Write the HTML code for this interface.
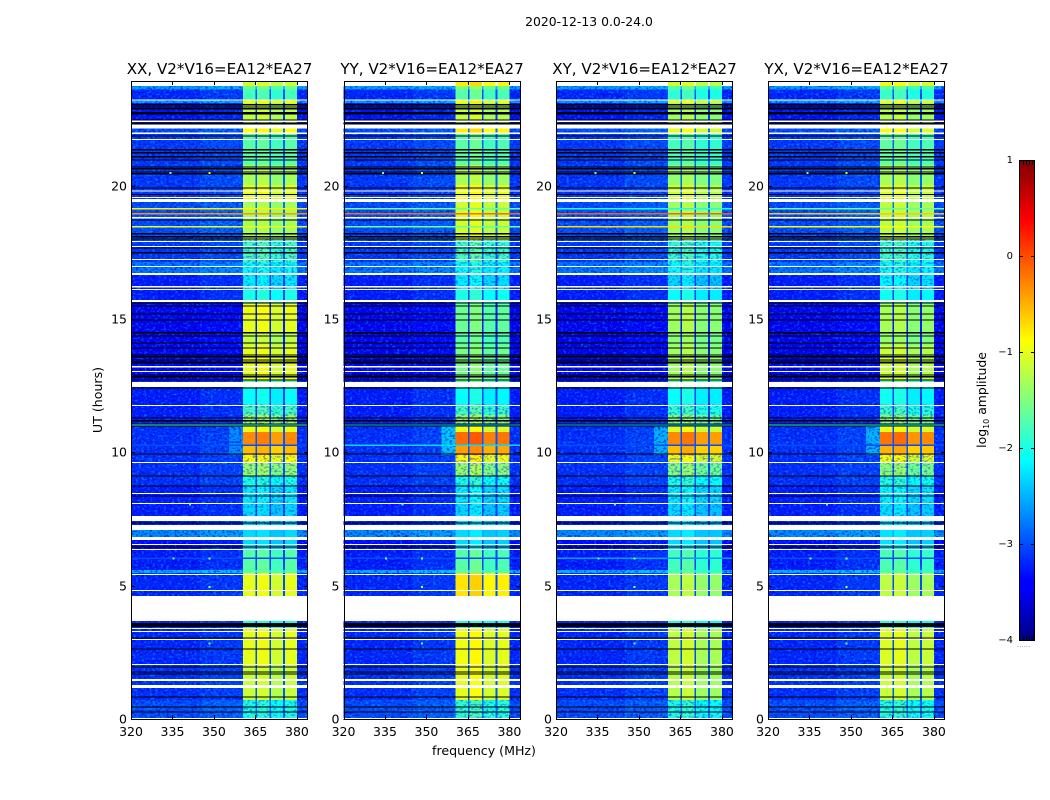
<!DOCTYPE html>
<html lang="en">
<head>
<meta charset="utf-8">
<title>2020-12-13 0.0-24.0</title>
<style>
html,body{margin:0;padding:0;background:#fff}
svg{display:block}
text{font-family:"DejaVu Sans","Liberation Sans",sans-serif;fill:#000}
</style>
</head>
<body>
<svg id="figure" xmlns="http://www.w3.org/2000/svg" width="1050" height="800" viewBox="0 0 1050 800">
  <defs>
    <filter id="speckleLight" x="0" y="0" width="100%" height="100%">
      <feTurbulence type="fractalNoise" baseFrequency="0.36 0.48" numOctaves="2" seed="4"/>
      <feColorMatrix type="matrix" values="0 0 0 0 0  0 0 0 0 0.62  0 0 0 0 1  5 0 0 0 -2.6"/>
    </filter>
    <filter id="speckleDark" x="0" y="0" width="100%" height="100%">
      <feTurbulence type="fractalNoise" baseFrequency="0.36 0.48" numOctaves="2" seed="11"/>
      <feColorMatrix type="matrix" values="0 0 0 0 0  0 0 0 0 0  0 0 0 0 0.6  5 0 0 0 -2.5"/>
    </filter>
    <linearGradient id="jetGradient" x1="0" y1="1" x2="0" y2="0">
      <stop offset="0" stop-color="#000080"/>
      <stop offset="0.11" stop-color="#0000ff"/>
      <stop offset="0.125" stop-color="#0000ff"/>
      <stop offset="0.375" stop-color="#00ffff"/>
      <stop offset="0.5" stop-color="#80ff80"/>
      <stop offset="0.625" stop-color="#ffff00"/>
      <stop offset="0.875" stop-color="#ff0000"/>
      <stop offset="1" stop-color="#800000"/>
    </linearGradient>
  </defs>
  <text x="589" y="26" font-size="12.4" text-anchor="middle">2020-12-13 0.0-24.0</text>
  <text x="484" y="755" font-size="12.6" text-anchor="middle">frequency (MHz)</text>
  <text x="0" y="0" font-size="12.6" text-anchor="middle" transform="translate(102 400) rotate(-90)">UT (hours)</text>
  <g id="panels"></g>
  <g id="colorbar">
    <rect x="1019.5" y="160.5" width="15" height="480" fill="url(#jetGradient)" stroke="#000" stroke-width="1"/>
    <text x="0" y="0" font-size="12.4" text-anchor="middle" transform="translate(986 400) rotate(-90)">log<tspan font-size="8" dy="3">10</tspan><tspan dy="-3"> amplitude</tspan></text>
    <text x="1017" y="647" font-size="7" style="fill:#888">......</text>
  </g>
</svg>
<script>
// Panel names
const panelNames = ["XX", "YY", "XY", "YX"];
const panelSuffix = ", V2*V16=EA12*EA27";

// Axis ticks
const xTicks = [320, 335, 350, 365, 380];
const yTicks = [0, 5, 10, 15, 20];
const colorTicks = [1, 0, -1, -2, -3, -4];
const colorCapFractions = [0.2, 0.4, 0.6, 0.8, 0.95];

// Channel edges in MHz
const channelEdges = [[360.5, 365], [365.6, 370], [370.6, 375], [375.6, 380]];

// Time segment edges in hours (top to bottom)
const segmentEdges = [23.92,23.74,23.6,23.21,23.10,22.43,22.13,21.98,20.78,20.03,19.39,17.96,17.14,16.65,16.09,15.60,15.04,14.48,14.03,12.71,12.41,11.78,11.40,11.03,10.76,10.28,9.90,9.64,9.11,8.74,8.10,7.09,6.83,6.34,5.59,5.48,4.61,3.41,2.06,0.71,0];

// log10 amplitude of the out-of-band background per segment
const backgroundLevels = [null,-2.6,-3.2,-2.6,-3.3,-3.2,-3.0,-3.1,-3.1,-3.1,-3.0,-3.1,-2.8,-3.25,-3.25,-3.45,-3.45,-3.45,-3.45,-3.25,-3.25,-3.25,-3.25,-3.15,-3.15,-3.15,-3.15,-3.15,-3.15,-3.25,-3.25,-2.7,-3.35,-3.25,-2.5,-3.2,-3.2,-3.2,-3.15,-3.0];

// log10 amplitude in the band per segment, per polarisation
const bandLevelsXX = [-1.1,-1.6,-1.8,-0.9,-1.2,-1.2,-0.9,-1.7,-1.3,-1.0,-1.3,-1.8,-2.1,-2.2,-2.0,-0.95,-1.0,-1.2,-1.0,-1.7,-2.1,-1.8,-1.4,-1.0,-0.3,-0.55,-0.9,-1.4,-2.0,-2.2,-2.3,-2.3,-2.3,-1.7,-1.7,-1.0,-2.0,-1.0,-1.15,-2.0];
const bandLevelsYY = [-0.8,-1.5,-1.7,-0.9,-1.2,-1.2,-0.8,-1.7,-1.3,-0.95,-1.1,-1.8,-2.1,-2.2,-2.0,-1.6,-1.6,-1.7,-1.55,-1.7,-2.1,-1.8,-1.4,-1.0,-0.15,-0.4,-0.9,-1.4,-2.0,-2.2,-2.3,-2.3,-2.3,-1.7,-1.7,-0.75,-2.0,-0.95,-1.0,-1.9];
const bandLevelsXY = [-1.1,-1.7,-1.9,-1.0,-1.35,-1.3,-1.0,-1.8,-1.4,-1.15,-1.35,-1.9,-2.1,-2.3,-2.1,-1.35,-1.35,-1.45,-1.35,-1.7,-2.1,-1.9,-1.5,-1.05,-0.3,-0.55,-1.0,-1.5,-2.0,-2.2,-2.3,-2.3,-2.3,-1.8,-1.8,-1.3,-2.0,-1.2,-1.25,-2.0];
const bandLevelsYX = [-1.0,-1.7,-1.9,-1.0,-1.3,-1.3,-1.0,-1.7,-1.35,-1.1,-1.25,-1.9,-2.1,-2.2,-2.1,-1.35,-1.35,-1.45,-1.2,-1.7,-2.1,-1.9,-1.5,-1.05,-0.25,-0.55,-1.0,-1.5,-2.0,-2.2,-2.3,-2.3,-2.3,-1.8,-1.8,-1.25,-2.0,-1.1,-1.2,-2.0];

// Per-channel offset relative to the band level, per polarisation
const channelOffsetsXX = [0, 0.05, -0.1, 0];
const channelOffsetsYY = [0, 0.1, -0.1, -0.05];
const channelOffsetsXY = [0, 0.1, -0.1, -0.1];
const channelOffsetsYX = [0.05, 0.1, -0.1, -0.05];

// Shoulder below the band at about 10-11 UT
const shoulderFreq = [355.5, 360.5];
const shoulderHours = [9.90, 11.03];
const shoulderLevels = [-2.7, -2.4, -2.5, -2.5];

// Narrow interference lines across the band
const lineHours = [19.13, 18.94, 18.46, 11.02, 10.27, 6.02];
const lineLevelsXX = [-0.8, -0.35, -1.0, -1.9, -3.0, -3.0];
const lineLevelsYY = [-1.6, -0.15, -1.6, -2.4, -2.3, -3.0];
const lineLevelsXY = [-2.0, -0.1, -0.7, -2.4, -3.0, -2.6];
const lineLevelsYX = [-1.6, -0.6, -0.9, -2.0, -3.0, -3.0];

// Hours flagged as missing (white), as [low, high]
const whiteRows = [[23.19,23.23],[22.39,22.43],[22.13,22.28],[21.94,21.98],[21.71,21.75],[19.78,19.82],[19.54,19.58],[19.39,19.50],[18.77,18.83],[17.89,17.93],[17.70,17.74],[17.21,17.25],[16.95,16.99],[16.65,16.73],[16.18,16.24],[16.09,16.13],[15.64,15.71],[13.18,13.24],[13.01,13.05],[12.45,12.64],[11.74,11.78],[9.60,9.64],[8.44,8.48],[8.06,8.10],[7.43,7.61],[7.09,7.28],[6.71,6.83],[6.53,6.56],[6.34,6.38],[5.40,5.44],[4.80,4.84],[3.68,4.61],[3.38,3.41],[3.26,3.30],[2.96,3.00],[2.03,2.06],[1.43,1.50],[1.16,1.28],[0,0.04]];

// Hours with zero amplitude (black)
const blackRows = [23.03,22.95,22.88,22.73,22.69,22.46,22.35,22.31,21.86,21.34,21.23,21.08,20.96,20.70,20.63,20.51,20.44,19.91,19.66,18.71,18.19,18.08,18.00,17.66,17.48,15.60,15.49,15.19,14.96,14.48,14.36,14.10,13.91,13.65,13.58,13.46,13.39,13.35,12.90,12.83,12.71,12.41,11.29,11.18,11.06,10.99,9.94,9.11,8.74,8.36,7.35,6.45,3.04,2.63,1.95,1.76,1.69,0.83,0.45,0.26];
const blackBlocks = [[3.45,3.60]];

// Time ranges where the band itself stays mottled
const mottledBandHours = [[7.09,9.90],[11.03,11.78],[16.09,17.96],[0,0.71]];

// Isolated hot pixels: frequency, hour, level
const hotFreqs = [334, 348, 341, 348, 335, 348, 348];
const hotHours = [20.48, 20.48, 8.05, 6.02, 6.02, 4.95, 2.83];
const hotLevels = [-1.4, -1.0, -1.6, -1.3, -1.5, -1.2, -1.6];

// Layout of the plotting frame
const panelLefts = [131, 343.5, 556, 768];
const panelWidth = 177;
const plotTop = 81;
const plotBottom = 719;
const xMin = 320, xMax = 384;
const yMin = 0, yMax = 23.92;
const allBands = [bandLevelsXX, bandLevelsYY, bandLevelsXY, bandLevelsYX];
const allOffsets = [channelOffsetsXX, channelOffsetsYY, channelOffsetsXY, channelOffsetsYX];
const allLines = [lineLevelsXX, lineLevelsYY, lineLevelsXY, lineLevelsYX];

const SVG_NS = "http://www.w3.org/2000/svg";
const yScale = h => plotBottom - (h - yMin) / (yMax - yMin) * (plotBottom - plotTop);
const xScale = (f, left) => left + (f - xMin) / (xMax - xMin) * panelWidth;

function jet(level) {
  const t = Math.max(0, Math.min(1, (level + 4) / 5));
  const ramp = v => Math.round(255 * Math.max(0, Math.min(1, v)));
  const r = ramp(Math.min(4 * t - 1.5, -4 * t + 4.5));
  const g = ramp(Math.min(4 * t - 0.5, -4 * t + 3.5));
  const b = ramp(Math.min(4 * t + 0.5, -4 * t + 2.5));
  return "rgb(" + r + "," + g + "," + b + ")";
}

function addRect(parent, x0, x1, yTop, yBot, fill) {
  const el = document.createElementNS(SVG_NS, "rect");
  el.setAttribute("x", x0.toFixed(2));
  el.setAttribute("width", (x1 - x0).toFixed(2));
  el.setAttribute("y", yTop.toFixed(2));
  el.setAttribute("height", (yBot - yTop).toFixed(2));
  el.setAttribute("fill", fill);
  el.setAttribute("shape-rendering", "crispEdges");
  parent.appendChild(el);
  return el;
}

function addLine(parent, x1, y1, x2, y2) {
  const el = document.createElementNS(SVG_NS, "line");
  el.setAttribute("x1", x1);
  el.setAttribute("y1", y1);
  el.setAttribute("x2", x2);
  el.setAttribute("y2", y2);
  el.setAttribute("stroke", "#000");
  el.setAttribute("stroke-width", "1");
  parent.appendChild(el);
  return el;
}

function addText(parent, x, y, size, anchor, content) {
  const el = document.createElementNS(SVG_NS, "text");
  el.setAttribute("x", x);
  el.setAttribute("y", y);
  el.setAttribute("font-size", size);
  el.setAttribute("text-anchor", anchor);
  el.textContent = content;
  parent.appendChild(el);
  return el;
}

const panelsRoot = document.getElementById("panels");

panelNames.forEach((name, p) => {
  const left = panelLefts[p];
  const right = left + panelWidth;
  const key = name.toLowerCase();
  const g = document.createElementNS(SVG_NS, "g");
  
  
  panelsRoot.appendChild(g);

  const title = addText(g, left + panelWidth / 2, 74, 15.1, "middle", name + panelSuffix);
  
  

  // Background cells per time segment
  backgroundLevels.forEach((bg, s) => {
    const yTop = yScale(segmentEdges[s]);
    const yBot = yScale(segmentEdges[s + 1]);
    const bgCell = addRect(g, left, right, yTop, yBot, bg === null ? "#fff" : jet(bg));
    
    
    if (bg !== null) {
      const edge = addRect(g, xScale(345, left), xScale(channelEdges[0][0], left), yTop, yBot, jet(bg + 0.1));
      
      
    }
  });

  // Shoulder
  const shoulder = addRect(g, xScale(shoulderFreq[0], left), xScale(shoulderFreq[1], left), yScale(shoulderHours[1]), yScale(shoulderHours[0]), jet(shoulderLevels[p]));
  
  

  // Speckle texture on the background
  const lightNoise = addRect(g, left, right, plotTop, plotBottom, "#fff");
  lightNoise.setAttribute("filter", "url(#speckleLight)");
  lightNoise.setAttribute("opacity", "0.4");
  
  
  const darkNoise = addRect(g, left, right, plotTop, plotBottom, "#000");
  darkNoise.setAttribute("filter", "url(#speckleDark)");
  darkNoise.setAttribute("opacity", "0.6");
  
  

  // Band cells, drawn over the texture
  backgroundLevels.forEach((bg, s) => {
    const yTop = yScale(segmentEdges[s]);
    const yBot = yScale(segmentEdges[s + 1]);
    if (bg === null) {
      const blank = addRect(g, left, right, yTop, yBot, "#fff");
      
      
    }
    const gapCell = addRect(g, xScale(channelEdges[0][1], left), xScale(channelEdges[3][0], left), yTop, yBot, bg === null ? "#fff" : jet(bg + 0.2));
    
    
    channelEdges.forEach((ch, c) => {
      const cell = addRect(g, xScale(ch[0], left), xScale(ch[1], left), yTop, yBot, jet(allBands[p][s] + allOffsets[p][c]));
      
      
    });
  });

  // Mottling inside the band where it is faint
  mottledBandHours.forEach(range => {
    const mott = addRect(g, xScale(channelEdges[0][0], left), xScale(channelEdges[3][1], left), yScale(range[1]), yScale(range[0]), "#000");
    mott.setAttribute("filter", "url(#speckleDark)");
    mott.setAttribute("opacity", "0.4");
    
    
  });

  // Interference lines
  lineHours.forEach((h, i) => {
    const y = yScale(h);
    const ln = addRect(g, left, right, y - 0.8, y + 0.8, jet(allLines[p][i]));
    
    
  });

  // Flagged rows
  whiteRows.forEach(row => {
    const el = addRect(g, left, right, yScale(row[1]), yScale(row[0]), "#fff");
    
    
  });
  blackRows.forEach(h => {
    const y = yScale(h);
    const el = addRect(g, left, right, y - 0.6, y + 0.6, "#000");
    
    
  });
  blackBlocks.forEach(row => {
    const el = addRect(g, left, right, yScale(row[1]), yScale(row[0]), "#000");
    
    
  });

  // Hot pixels
  hotFreqs.forEach((f, i) => {
    const x = xScale(f, left);
    const y = yScale(hotHours[i]);
    const el = addRect(g, x, x + 2, y - 1, y + 1, jet(hotLevels[i]));
    
    
  });

  // Frame
  const frame = document.createElementNS(SVG_NS, "rect");
  frame.setAttribute("x", Math.round(left) + 0.5);
  frame.setAttribute("y", plotTop + 0.5);
  frame.setAttribute("width", panelWidth - 1);
  frame.setAttribute("height", plotBottom - plotTop);
  frame.setAttribute("fill", "none");
  frame.setAttribute("stroke", "#000");
  frame.setAttribute("stroke-width", "1");
  
  
  g.appendChild(frame);

  // X ticks
  xTicks.forEach(t => {
    const x = Math.round(xScale(t, left)) + 0.5;
    const tb = addLine(g, x, plotBottom, x, plotBottom - 4);
    
    
    const tt = addLine(g, x, plotTop, x, plotTop + 4);
    
    
    const lb = addText(g, xScale(t, left), 736, 12.5, "middle", String(t));
    
    
  });

  // Y ticks
  yTicks.forEach(t => {
    const y = Math.round(yScale(t)) + 0.5;
    const tl = addLine(g, left, y, left + 4, y);
    
    
    const tr = addLine(g, right - 4, y, right, y);
    
    
    const lb = addText(g, left - 4, y + 4, 12.5, "end", String(t));
    
    
  });
});

// Colorbar ticks
const colorbarRoot = document.getElementById("colorbar");
const colorScale = v => 640 - (v + 4) / 5 * 480;
colorTicks.forEach(v => {
  const y = Math.round(colorScale(v)) + 0.5;
  const a = addLine(colorbarRoot, 1019, y, 1023, y);
  
  
  const b = addLine(colorbarRoot, 1031, y, 1035, y);
  
  
  const lb = addText(colorbarRoot, 1013, Math.round(colorScale(v)) + 3, 10, "end", String(v).replace("-", "\u2212"));
  
  
});
colorCapFractions.forEach(f => {
  const x = Math.round(1019.5 + f * 15) + 0.5;
  const top = addLine(colorbarRoot, x, 161, x, 165);
  
  
  const bottom = addLine(colorbarRoot, x, 636, x, 640);
  
  
});
</script>
</body>
</html>
